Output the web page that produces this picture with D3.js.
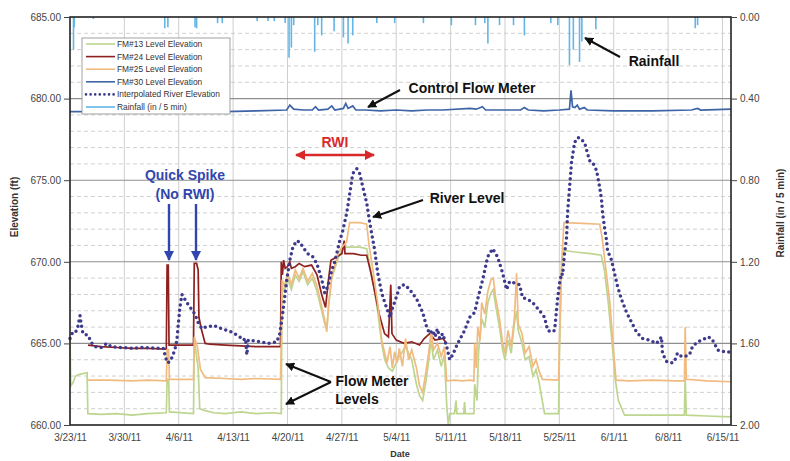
<!DOCTYPE html>
<html><head><meta charset="utf-8">
<script src="https://cdn.jsdelivr.net/npm/d3@7"></script>
<style>
body{margin:0;background:#fff;}
text{font-family:Arial,"Liberation Sans",Helvetica,sans-serif;}
</style>
</head><body>
<svg id="chart" width="790" height="461"></svg>
<script>
// ---------- DATA (day offset from 3/23/11, value) ----------
const startDate = new Date(2011, 2, 23);
const endDayOffset = 85.1;
const weekCount = 12;
const elevTicks = [660, 665, 670, 675, 680, 685];
const rainTicks = [0, 0.4, 0.8, 1.2, 1.6, 2.0];
const seriesNames = ["FM#13 Level Elevation","FM#24 Level Elevation","FM#25 Level Elevation","FM#30 Level Elevation","Interpolated River Elevation","Rainfall (in / 5 min)"];

const fm13 = [[0,665.3],[0.1,662.4],[0.4,662.6],[0.7,663.0],[1.2,663.1],[2.2,663.2],[2.3,660.7],[4,660.65],[6,660.7],[8,660.6],[10,660.7],[12.4,660.75],[12.5,662.8],[12.7,662.8],[12.8,660.8],[15.9,660.7],[16.0,665.2],[16.5,663.5],[16.7,661.0],[17.3,660.9],[18.5,660.75],[20,660.7],[22,660.8],[24,660.7],[26,660.75],[27.2,660.7],[27.3,668.5],[27.6,668.2],[28.0,669.0],[28.5,668.3],[29.0,669.2],[29.5,668.8],[30,669.4],[30.6,668.6],[31.2,669.0],[31.8,668.2],[32.3,667.2],[32.8,666.2],[33.06,665.9],[33.3,667.3],[33.7,669.0],[34.5,670.2],[35.0,670.7],[35.6,670.9],[37.3,670.9],[38.2,670.8],[38.6,669.8],[39.0,668.8],[39.6,667.0],[40.13,665.0],[40.52,664.0],[41.0,663.5],[41.5,663.3],[42.4,664.2],[43.2,664.8],[44.0,664.0],[44.6,662.5],[45.0,661.8],[45.4,661.5],[45.8,662.6],[46.2,664.0],[46.5,665.2],[46.8,664.0],[47.3,664.6],[47.8,663.6],[48.2,664.3],[48.5,661.2],[48.7,660.0],[48.9,660.7],[49.5,660.7],[49.7,661.5],[49.8,660.7],[50.7,660.7],[50.8,661.4],[50.9,660.7],[52.0,660.7],[52.1,662.5],[52.4,661.5],[52.6,664.5],[53.0,666.5],[53.4,666.0],[53.8,667.5],[54.2,668.1],[54.5,668.3],[54.8,667.3],[55.3,666.0],[55.7,664.6],[56.0,664.0],[56.4,665.2],[56.8,664.4],[57.2,666.2],[57.5,667.0],[57.7,665.8],[58.2,665.0],[58.6,664.0],[59.1,664.2],[59.6,663.0],[60.0,663.4],[60.4,662.6],[60.8,661.5],[61.1,660.7],[62.9,660.7],[63.0,664.0],[63.3,670.0],[63.6,670.7],[65,670.6],[67,670.5],[68.4,670.4],[68.8,669.5],[69.3,667.5],[69.8,665.0],[70.2,662.8],[70.6,661.5],[71.4,660.6],[75,660.6],[79.1,660.6],[79.2,662.9],[79.35,660.6],[82,660.55],[85.1,660.5]];

const fm24 = [[2.32,664.9],[4,664.8],[6,664.75],[8,664.7],[10,664.7],[12.4,664.65],[12.5,669.8],[12.65,669.8],[12.75,664.9],[14,664.9],[15.9,664.9],[16.0,669.9],[16.3,669.9],[16.5,669.5],[16.6,666.6],[16.9,665.9],[17.4,665.0],[18,664.95],[20,664.9],[22,664.85],[24,664.8],[26,664.8],[27.1,664.8],[27.2,670.0],[27.35,669.2],[27.5,670.1],[27.7,669.6],[28.0,669.7],[28.3,670.0],[28.5,669.6],[29,669.7],[29.5,669.9],[30.2,669.7],[31.1,669.8],[31.8,669.2],[32.4,668.0],[32.9,667.2],[33.3,669.0],[33.6,670.1],[34.3,670.3],[35.0,670.5],[35.3,671.3],[35.4,670.5],[36.5,670.5],[37.5,670.4],[38.2,670.4],[38.7,669.4],[39.3,668.0],[39.8,666.8],[40.5,665.6],[41.0,665.4],[41.3,668.6],[41.45,665.6],[42,665.2],[43,665.0],[44,665.1],[45,664.9],[45.6,665.3],[46.3,665.6],[47,665.2],[48.0,665.3],[48.5,665.0]];

const fm25 = [[2.32,662.75],[5,662.75],[8,662.7],[10,662.75],[12.4,662.7],[12.5,664.6],[12.7,664.6],[12.8,662.8],[15.9,662.8],[16.0,665.4],[16.4,664.8],[16.8,663.4],[17.4,662.9],[20,662.85],[22,662.8],[24,662.85],[27.1,662.8],[27.2,665.0],[27.3,668.9],[27.6,668.5],[28.0,669.3],[28.5,668.6],[29.0,669.5],[29.5,669.0],[30,669.6],[30.6,668.8],[31.2,669.3],[31.8,668.5],[32.3,667.5],[32.8,666.4],[33.06,665.7],[33.3,667.5],[33.7,669.1],[34.5,670.5],[35.0,670.9],[35.6,671.2],[36.0,672.4],[37.3,672.4],[38.2,672.3],[38.5,671.0],[39.0,669.5],[39.6,667.5],[40.13,665.2],[40.52,664.4],[40.8,663.8],[41.2,664.8],[41.5,663.5],[41.8,664.5],[42.1,663.8],[42.4,664.7],[42.8,663.6],[43.2,665.3],[43.6,664.0],[44.0,664.6],[44.6,663.5],[45.0,662.4],[45.4,662.0],[45.8,663.2],[46.2,664.5],[46.5,665.8],[46.8,664.6],[47.3,665.0],[47.8,664.2],[48.2,664.8],[48.5,662.7],[49.5,662.75],[50.5,662.7],[51.5,662.75],[52.0,662.7],[52.1,665.0],[52.3,663.5],[52.5,666.0],[52.8,665.2],[53.0,667.5],[53.4,666.8],[53.8,668.2],[54.2,668.9],[54.5,669.0],[54.8,667.8],[55.3,666.5],[55.7,665.0],[56.0,664.4],[56.4,665.8],[56.8,664.8],[57.2,666.5],[57.5,669.3],[57.7,666.2],[58.2,665.6],[58.6,664.4],[59.1,664.8],[59.6,663.6],[60.0,664.0],[60.4,663.3],[60.8,662.8],[62.9,662.75],[63.0,665.0],[63.3,670.0],[63.6,672.4],[66,672.35],[68.2,672.3],[68.5,671.5],[69.0,669.5],[69.5,667.5],[69.9,665.0],[70.3,662.75],[72,662.7],[75,662.75],[78,662.7],[79.1,662.7],[79.2,666.0],[79.35,662.8],[82,662.7],[85.1,662.65]];

const fm30 = [[0,679.2],[5,679.2],[10,679.2],[15,679.25],[20,679.2],[24,679.25],[27.9,679.3],[28.3,679.6],[28.8,679.35],[30,679.3],[31.2,679.3],[31.6,679.5],[32,679.3],[33.2,679.35],[33.7,679.55],[34.1,679.3],[35.2,679.4],[35.5,679.7],[35.8,679.4],[36.4,679.55],[36.8,679.3],[38,679.3],[40,679.25],[42,679.3],[44,679.25],[46,679.3],[48,679.3],[51.5,679.4],[52.3,679.35],[53.1,679.5],[53.5,679.3],[55,679.3],[58,679.3],[58.5,679.45],[59,679.3],[61,679.25],[63,679.3],[64.3,679.35],[64.5,680.5],[64.7,679.5],[65.0,679.45],[65.3,679.6],[65.6,679.35],[66.2,679.45],[66.6,679.3],[70,679.25],[75,679.25],[80,679.3],[80.8,679.4],[81.2,679.3],[85.1,679.35]];

const river = [[0,665.3],[0.26,665.6],[0.64,665.6],[1.0,666.0],[1.29,666.7],[1.4,666.3],[1.67,665.6],[2.3,665.5],[2.83,665.0],[3.22,664.8],[4.0,664.75],[4.76,665.0],[5.3,664.8],[6.5,664.75],[8,664.7],[9.5,664.75],[11,664.7],[12.0,664.7],[12.4,664.0],[12.61,663.8],[13.0,664.0],[13.5,664.6],[13.76,665.2],[13.95,666.2],[14.15,667.2],[14.41,668.0],[15.18,667.4],[16.08,666.8],[16.47,666.3],[16.98,665.9],[17.5,666.0],[18.5,666.1],[19.5,665.9],[20.84,665.7],[21.87,665.4],[22.3,665.2],[22.6,665.3],[22.77,664.3],[22.95,665.2],[24.44,665.1],[25.5,665.0],[26.63,665.1],[27.01,665.6],[27.4,666.9],[27.91,668.9],[28.3,670.1],[28.69,670.9],[29.2,671.3],[29.59,671.2],[29.97,670.9],[30.61,670.5],[31.26,670.3],[31.77,669.9],[32.42,668.9],[32.8,668.1],[33.19,668.5],[33.7,669.5],[34.09,670.0],[34.73,671.3],[35.12,671.9],[35.63,673.0],[36.02,674.2],[36.4,675.4],[36.92,675.7],[37.3,675.4],[37.69,674.6],[38.2,673.6],[38.59,672.4],[39.23,670.7],[39.62,669.3],[40.13,668.1],[40.52,667.5],[40.9,667.0],[41.16,666.6],[41.55,667.2],[42.06,667.9],[42.45,668.5],[43.1,668.6],[43.74,668.3],[44.64,667.7],[45.41,666.9],[45.92,666.0],[46.31,665.6],[46.69,665.8],[47.0,665.4],[47.3,665.9],[47.6,665.3],[47.98,665.6],[48.5,664.8],[48.88,664.0],[49.27,664.3],[49.91,665.0],[50.81,665.8],[51.45,666.6],[52.1,666.9],[52.48,667.7],[53.13,668.9],[53.77,670.3],[54.41,670.8],[55.05,670.3],[55.7,669.3],[56.21,668.3],[56.6,668.8],[57.24,668.7],[57.88,668.6],[58.27,667.8],[58.91,667.7],[59.56,667.5],[60.46,667.0],[61.1,666.6],[61.49,665.8],[62.0,665.7],[62.39,665.8],[62.77,667.7],[63.03,668.7],[63.29,669.3],[63.42,669.2],[63.67,670.5],[63.93,671.5],[64.06,673.0],[64.32,674.6],[64.57,676.1],[64.96,677.3],[65.3,677.6],[65.6,677.6],[66.25,677.3],[66.89,676.2],[67.27,676.1],[67.79,675.6],[68.18,674.6],[68.43,673.8],[68.56,673.0],[68.82,672.1],[69.08,671.3],[69.2,670.7],[69.72,670.1],[70.1,669.3],[70.49,668.5],[71.0,667.7],[71.65,666.9],[72.29,666.3],[72.94,665.7],[73.71,665.3],[74.61,665.2],[75.51,665.0],[76.15,665.4],[76.28,664.4],[76.79,663.9],[77.44,663.8],[77.82,663.9],[78.21,664.4],[78.72,664.2],[79.11,664.2],[79.75,664.3],[80.14,664.8],[80.78,665.1],[81.42,665.2],[82.07,665.4],[82.58,665.3],[82.97,665.0],[83.35,664.6],[83.99,664.5],[84.64,664.5],[84.9,664.45]];

const rainfall = [[0.45,0.16],[0.55,0.05],[3.0,0.01],[12.2,0.055],[12.6,0.05],[16.1,0.05],[16.3,0.055],[19.0,0.03],[19.6,0.03],[24.1,0.02],[25.5,0.02],[26.3,0.02],[27.7,0.03],[28.2,0.20],[28.5,0.15],[28.8,0.04],[31.5,0.17],[31.9,0.04],[32.4,0.09],[34.0,0.07],[35.2,0.10],[35.8,0.13],[36.4,0.09],[39.5,0.03],[41.8,0.03],[45.5,0.03],[49.1,0.04],[52.2,0.04],[53.4,0.03],[53.8,0.13],[55.3,0.04],[57.1,0.04],[58.5,0.09],[61.9,0.03],[62.8,0.04],[64.3,0.235],[64.8,0.16],[65.6,0.22],[65.9,0.12],[67.7,0.06],[80.5,0.055],[80.8,0.04]];

// ---------- SCALES ----------
const dateOf = d => new Date(+startDate + d * 86400000);
const X0 = 70, X1 = 731, Y0 = 17, Y1 = 425;
const x = d3.scaleTime().domain([startDate, dateOf(endDayOffset)]).range([X0, X1]);
const y = d3.scaleLinear().domain([660, 685]).range([Y1, Y0]);
const yr = d3.scaleLinear().domain([0, 2]).range([Y0, Y1]);
const weekTicks = d3.range(weekCount + 1).map(i => d3.timeDay.offset(startDate, 7 * i));

const svg = d3.select("#chart");
const colors = {fm13:"#bdd58f", fm24:"#8e2020", fm25:"#f1bb80", fm30:"#3e64a6", river:"#3d3a8c", rain:"#62b5e5"};

// ---------- GRID ----------
const grid = svg.append("g");
grid.selectAll("line.minor").data(d3.range(661, 685).filter(v => v % 5 !== 0)).join("line")
  .attr("x1", X0).attr("x2", X1).attr("y1", d => y(d)).attr("y2", d => y(d))
  .attr("stroke", "#c4c4c4").attr("stroke-width", 0.8).attr("stroke-dasharray", "4,3");
grid.selectAll("line.vert").data(weekTicks.slice(1)).join("line")
  .attr("x1", d => x(d)).attr("x2", d => x(d)).attr("y1", Y0).attr("y2", Y1)
  .attr("stroke", "#c8c8c8").attr("stroke-width", 0.9);
grid.selectAll("line.major").data(elevTicks.slice(1, -1)).join("line")
  .attr("x1", X0).attr("x2", X1).attr("y1", d => y(d)).attr("y2", d => y(d))
  .attr("stroke", "#8f8f8f").attr("stroke-width", 1.1);

// ---------- SERIES ----------
const line = d3.line().x(d => x(dateOf(d[0]))).y(d => y(d[1]));
const plot = svg.append("g");
plot.append("path").datum(fm13).attr("d", line).attr("fill", "none").attr("stroke", colors.fm13).attr("stroke-width", 1.7);
plot.append("path").datum(fm24).attr("d", line).attr("fill", "none").attr("stroke", colors.fm24).attr("stroke-width", 1.7);
plot.append("path").datum(fm25).attr("d", line).attr("fill", "none").attr("stroke", colors.fm25).attr("stroke-width", 1.7);
plot.append("path").datum(fm30).attr("d", line).attr("fill", "none").attr("stroke", colors.fm30).attr("stroke-width", 1.7);
plot.append("path").datum(river).attr("d", line).attr("fill", "none").attr("stroke", colors.river)
  .attr("stroke-width", 3.5).attr("stroke-linecap", "round").attr("stroke-dasharray", "0 5.4");
plot.selectAll("line.rain").data(rainfall).join("line")
  .attr("x1", d => x(dateOf(d[0]))).attr("x2", d => x(dateOf(d[0])))
  .attr("y1", yr(0)).attr("y2", d => yr(d[1]))
  .attr("stroke", colors.rain).attr("stroke-width", 1.6);

// ---------- BORDER & AXES ----------
svg.append("rect").attr("x", X0).attr("y", Y0).attr("width", X1 - X0).attr("height", Y1 - Y0)
  .attr("fill", "none").attr("stroke", "#222").attr("stroke-width", 1.6);

const axL = svg.append("g").attr("transform", `translate(${X0},0)`)
  .call(d3.axisLeft(y).tickValues(elevTicks).tickFormat(d3.format(".2f")).tickSize(6).tickPadding(3));
const axR = svg.append("g").attr("transform", `translate(${X1},0)`)
  .call(d3.axisRight(yr).tickValues(rainTicks).tickFormat(d3.format(".2f")).tickSize(6).tickPadding(3));
const axB = svg.append("g").attr("transform", `translate(0,${Y1})`)
  .call(d3.axisBottom(x).tickValues(weekTicks).tickFormat(d3.timeFormat("%-m/%-d/%y")).tickSize(0).tickPadding(9));
[axL, axR, axB].forEach(a => {
  a.select(".domain").remove();
  a.selectAll("text").attr("font-size", 10).attr("fill", "#444").attr("font-family", "Arial, Liberation Sans, sans-serif");
  a.selectAll("line").attr("stroke", "#444");
});

svg.append("text").attr("transform", "translate(18,207) rotate(-90)").attr("text-anchor", "middle")
  .attr("font-size", 10).attr("font-weight", "bold").attr("fill", "#333").text("Elevation (ft)");
svg.append("text").attr("transform", "translate(784,213) rotate(-90)").attr("text-anchor", "middle")
  .attr("font-size", 10).attr("font-weight", "bold").attr("fill", "#333").text("Rainfall (in / 5 min)");
svg.append("text").attr("x", 400).attr("y", 457).attr("text-anchor", "middle")
  .attr("font-size", 9).attr("font-weight", "bold").attr("fill", "#333").text("Date");

// ---------- LEGEND ----------
const lg = svg.append("g");
lg.append("rect").attr("x", 82).attr("y", 38).attr("width", 148).attr("height", 76)
  .attr("fill", "#fff").attr("stroke", "#8a8a8a").attr("stroke-width", 0.8);
const legendColors = [colors.fm13, colors.fm24, colors.fm25, colors.fm30, colors.river, colors.rain];
seriesNames.forEach((n, i) => {
  const yy = 44 + i * 12.6;
  const l = lg.append("line").attr("x1", 86).attr("x2", 115).attr("y1", yy).attr("y2", yy)
    .attr("stroke", legendColors[i]).attr("stroke-width", i === 4 ? 2.6 : 1.6);
  if (i === 4) l.attr("stroke-linecap", "round").attr("stroke-dasharray", "0 4.6");
  lg.append("text").attr("x", 117).attr("y", yy).attr("dy", "0.35em").attr("font-size", 8.4)
    .attr("fill", "#333").text(n);
});

// ---------- ANNOTATIONS ----------
const defs = svg.append("defs");
function marker(id, color, size) {
  defs.append("marker").attr("id", id).attr("viewBox", "0 0 10 10").attr("refX", 9).attr("refY", 5)
    .attr("markerWidth", size).attr("markerHeight", size).attr("orient", "auto-start-reverse")
    .append("path").attr("d", "M0,0 L10,5 L0,10 z").attr("fill", color);
}
marker("ab", "#111", 4.5);
marker("abl", "#3146ad", 4.2);
marker("ar", "#d8282a", 4);

const ann = svg.append("g");
function arrow(x1, y1, x2, y2, color, m, w, both) {
  const l = ann.append("line").attr("x1", x1).attr("y1", y1).attr("x2", x2).attr("y2", y2)
    .attr("stroke", color).attr("stroke-width", w).attr("marker-end", `url(#${m})`);
  if (both) l.attr("marker-start", `url(#${m})`);
}
function label(t, xx, yy, color, size) {
  ann.append("text").attr("x", xx).attr("y", yy).attr("text-anchor", "middle").attr("font-size", size)
    .attr("font-weight", "bold").attr("fill", color).text(t);
}
label("Quick Spike", 185, 180, "#3146ad", 14);
label("(No RWI)", 185, 199, "#3146ad", 14);
arrow(169, 204, 169, 260, "#3146ad", "abl", 2.4);
arrow(196, 204, 196, 260, "#3146ad", "abl", 2.4);
label("RWI", 335, 147, "#d8282a", 14);
arrow(296, 155, 374, 155, "#d8282a", "ar", 2.6, true);
label("River Level", 467, 203, "#111", 14);
arrow(423, 200, 373, 217, "#111", "ab", 2);
label("Control Flow Meter", 472, 93, "#111", 14);
arrow(400, 90, 368, 107, "#111", "ab", 2);
label("Rainfall", 654, 66, "#111", 14);
arrow(620, 57, 585, 38, "#111", "ab", 2);
label("Flow Meter", 372, 386, "#111", 14);
label("Levels", 357, 404, "#111", 14);
arrow(331, 382, 286, 364, "#111", "ab", 2);
arrow(331, 382, 286, 404, "#111", "ab", 2);
</script>
</body></html>
